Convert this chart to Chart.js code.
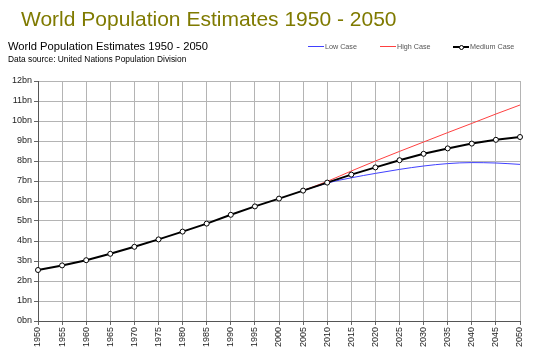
<!DOCTYPE html>
<html>
<head>
<meta charset="utf-8">
<script src="https://cdn.jsdelivr.net/npm/chart.js@4/dist/chart.umd.min.js"></script>
<style>
  html, body { margin: 0; padding: 0; background: #fff; }
  #wrap { position: relative; width: 538px; height: 359px; overflow: hidden; font-family: "Liberation Sans", Arial, sans-serif; }
  #c { position: absolute; left: 0; top: 0; }
  .t { position: absolute; white-space: nowrap; line-height: 1; }
  #bigTitle { left: 21px; top: 8px; font-size: 21px; color: #7f7a00; }
  #subTitle { left: 8px; top: 41px; font-size: 11.2px; color: #000; }
  #source { left: 8px; top: 55px; font-size: 8.4px; color: #000; }
  .lg { position: absolute; top: 42px; height: 9px; line-height: 9px; font-size: 7.2px; color: #555; white-space: nowrap; }
  .sw { position: absolute; left: 0; top: 4px; width: 16px; height: 0; }
  .lt { position: absolute; left: 17px; top: 0; }
</style>
</head>
<body>
<div id="wrap">
  <canvas id="c" width="538" height="359"></canvas>
  <div class="t" id="bigTitle">World Population Estimates 1950 - 2050</div>
  <div class="t" id="subTitle">World Population Estimates 1950 - 2050</div>
  <div class="t" id="source">Data source: United Nations Population Division</div>
  <div class="lg" style="left:308px"><span class="sw" style="border-top:1px solid #4040ff"></span><span class="lt">Low Case</span></div>
  <div class="lg" style="left:380px"><span class="sw" style="border-top:1px solid #ff4040"></span><span class="lt">High Case</span></div>
  <div class="lg" style="left:453px"><span class="sw" style="border-top:2px solid #000"><span style="position:absolute;left:6px;top:-3px;width:5px;height:5px;border:1px solid #000;border-radius:50%;background:#fff;box-sizing:border-box;"></span></span><span class="lt">Medium Case</span></div>
</div>
<script>
const years = ["1950","1955","1960","1965","1970","1975","1980","1985","1990","1995","2000","2005","2010","2015","2020","2025","2030","2035","2040","2045","2050"];
const mediumCase = [2.55, 2.78, 3.04, 3.36, 3.71, 4.08, 4.47, 4.87, 5.31, 5.73, 6.12, 6.52, 6.92, 7.32, 7.68, 8.04, 8.36, 8.63, 8.87, 9.06, 9.20];
const lowCase    = [null, null, null, null, null, null, null, null, null, null, null, 6.52, 6.90, 7.16, 7.38, 7.58, 7.75, 7.87, 7.92, 7.90, 7.83];
const highCase   = [null, null, null, null, null, null, null, null, null, null, null, 6.52, 6.98, 7.50, 8.00, 8.48, 8.95, 9.42, 9.88, 10.35, 10.80];
const yTicks = [0,1,2,3,4,5,6,7,8,9,10,11,12];

const tickFont = { family: "Liberation Sans, Arial, sans-serif", size: 9 };

new Chart(document.getElementById('c'), {
  type: 'line',
  data: {
    labels: years,
    datasets: [
      { label: 'Low Case', data: lowCase, borderColor: '#4040ff', borderWidth: 1, pointRadius: 0, cubicInterpolationMode: 'monotone', order: 2 },
      { label: 'High Case', data: highCase, borderColor: '#ff4040', borderWidth: 1, pointRadius: 0, cubicInterpolationMode: 'monotone', order: 1 },
      { label: 'Medium Case', data: mediumCase, borderColor: '#000', borderWidth: 2, pointRadius: 2.5, pointBackgroundColor: '#fff', pointBorderColor: '#000', pointBorderWidth: 1, order: 0 }
    ]
  },
  options: {
    responsive: false,
    animation: false,
    events: [],
    layout: { padding: { left: 0, right: 18, top: 81, bottom: 0 } },
    plugins: { legend: { display: false }, title: { display: false }, tooltip: { enabled: false } },
    scales: {
      x: {
        offset: false,
        grid: { color: '#b4b4b4', tickLength: 4, drawTicks: true, tickColor: '#666' },
        border: { color: '#555', width: 1 },
        ticks: { font: tickFont, color: '#222', maxRotation: 90, minRotation: 90, autoSkip: false, padding: 2 },
        afterFit: (s) => { s.height = 38; }
      },
      y: {
        min: 0, max: 12,
        afterBuildTicks: (s) => { s.ticks = yTicks.map(v => ({ value: v })); },
        grid: { color: '#b4b4b4', tickLength: 4, tickColor: '#666' },
        border: { color: '#555', width: 1 },
        ticks: { font: tickFont, color: '#222', padding: 2, callback: (v) => v + 'bn' },
        afterFit: (s) => { s.width = 38; }
      }
    }
  }
});
</script>
</body>
</html>
